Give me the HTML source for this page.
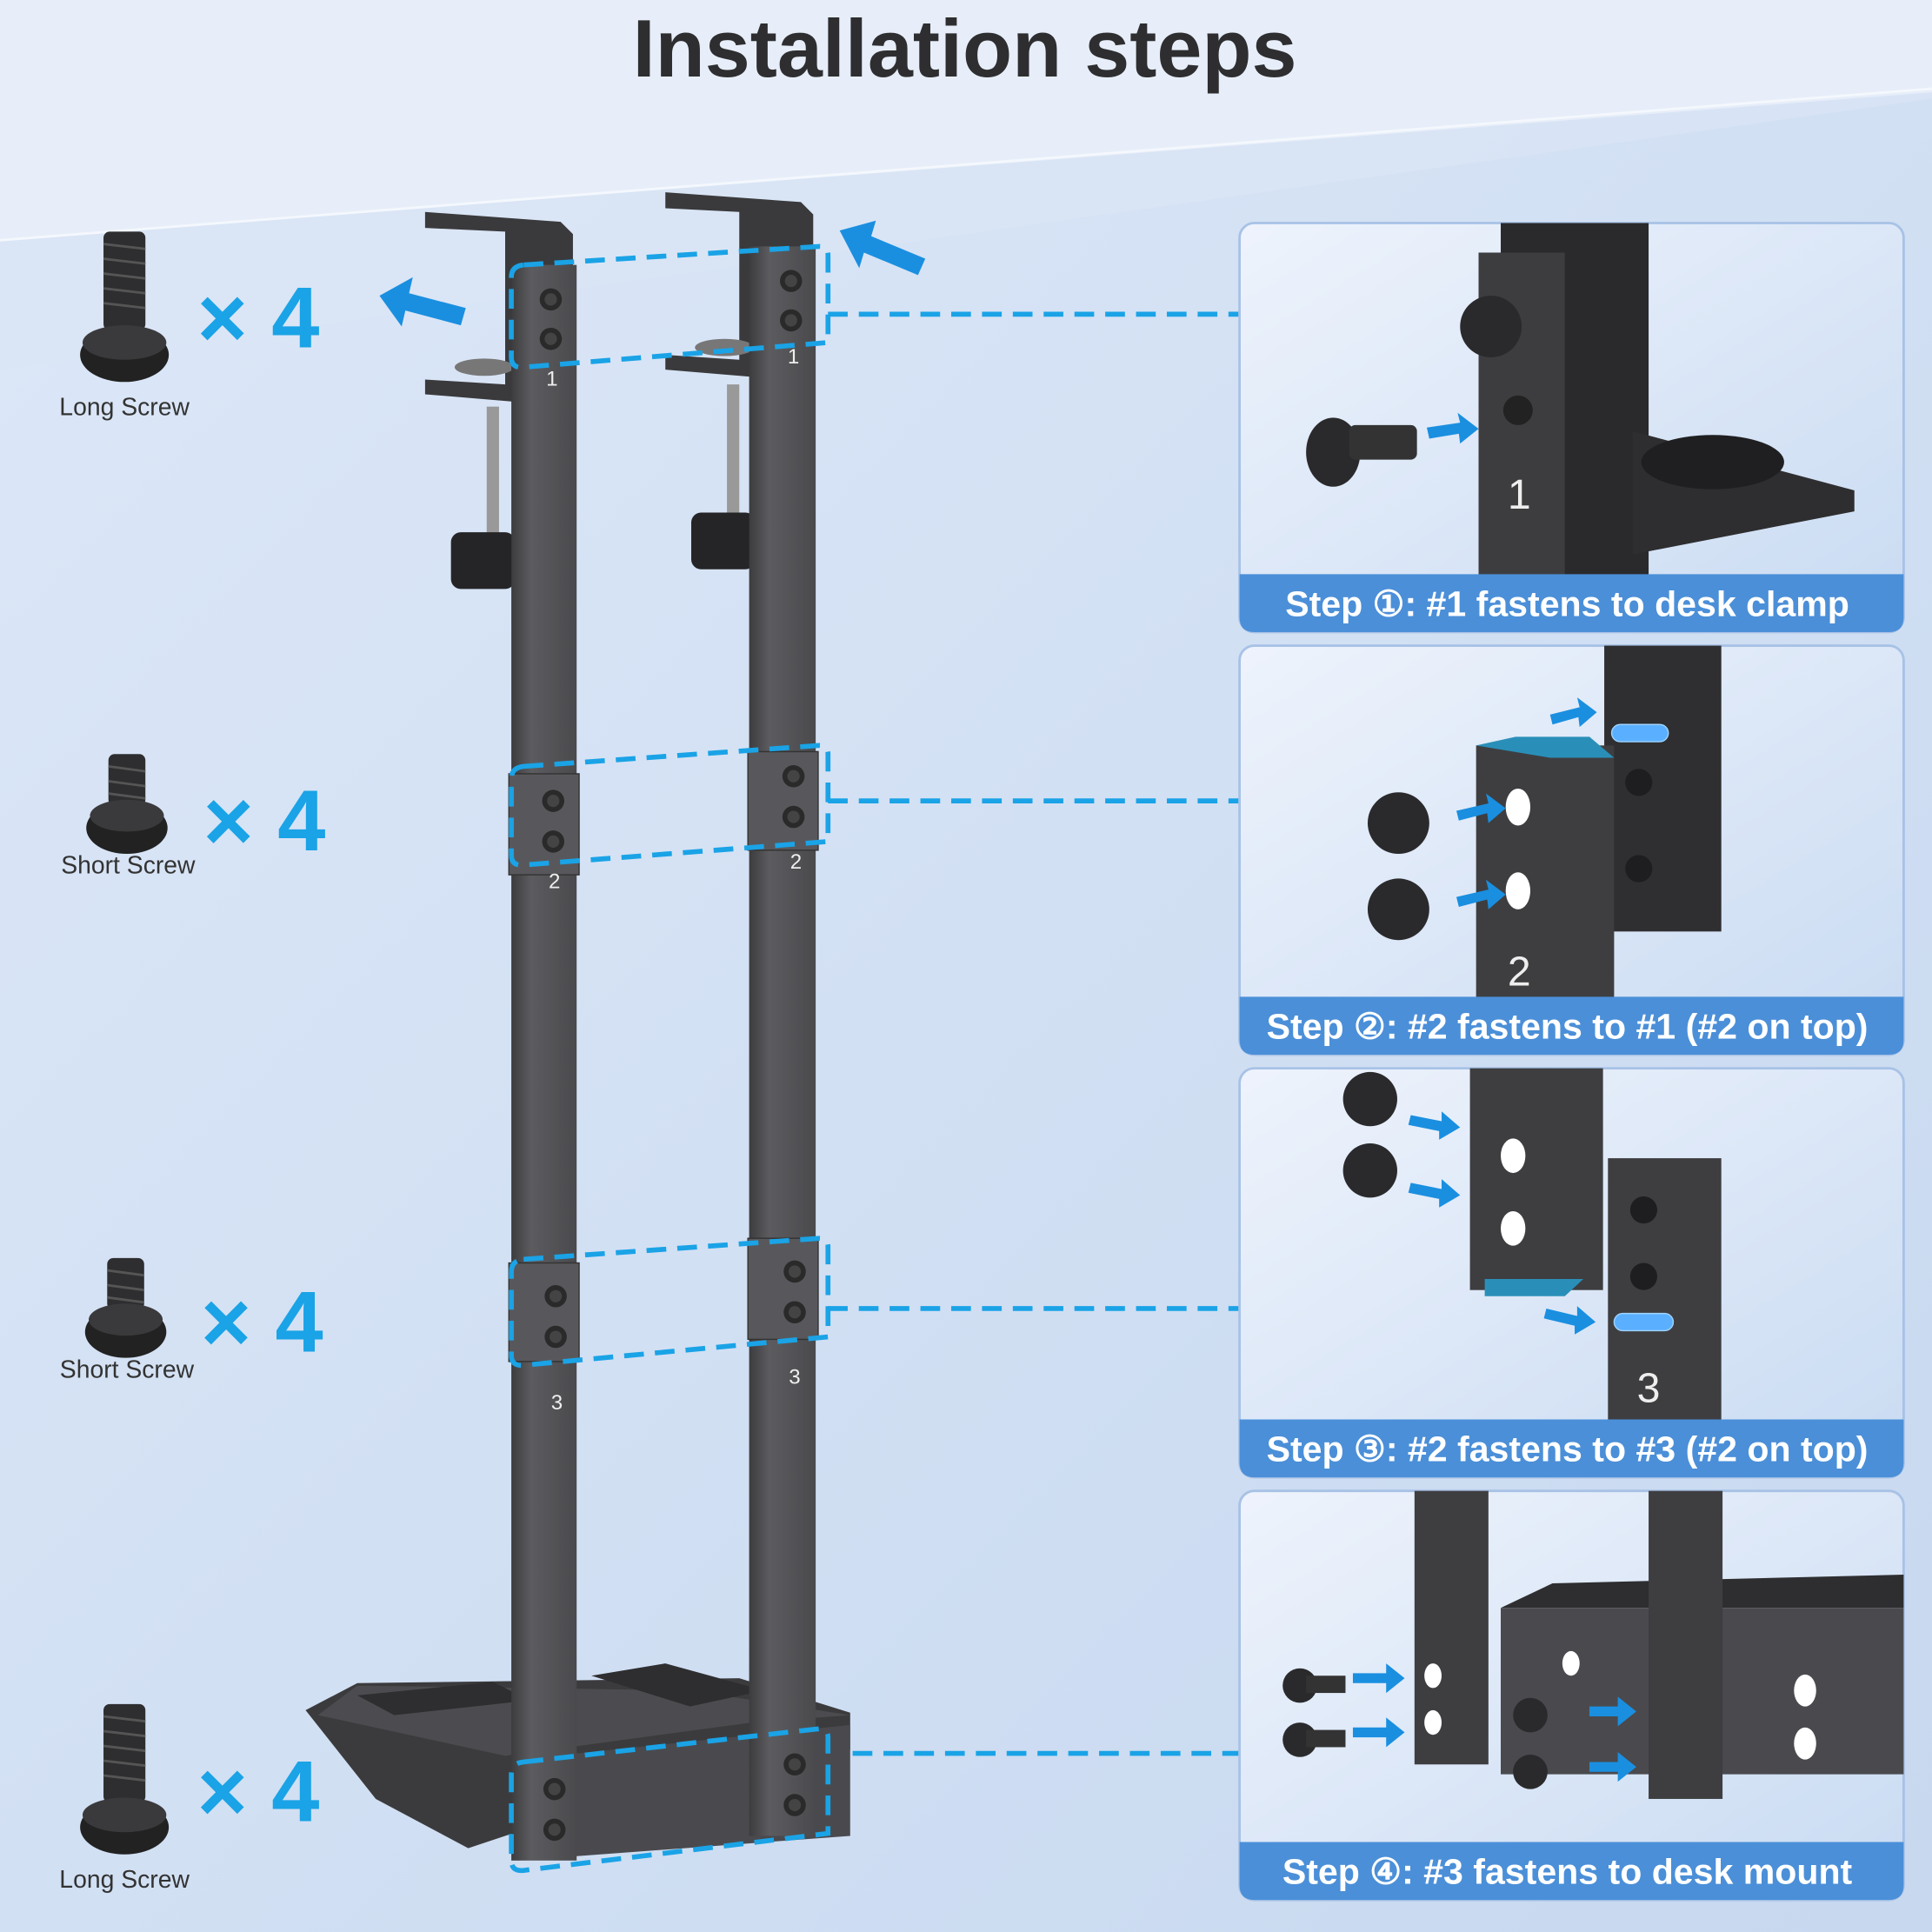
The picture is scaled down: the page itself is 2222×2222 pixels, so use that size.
<!DOCTYPE html>
<html><head><meta charset="utf-8"><style>
html,body{margin:0;padding:0;width:2222px;height:2222px;overflow:hidden}
svg{display:block}
text{font-family:"Liberation Sans",sans-serif}
</style></head><body>
<svg width="2222" height="2222" viewBox="0 0 1568 1568" xmlns="http://www.w3.org/2000/svg">
<defs>
<linearGradient id="bg" x1="0" y1="0" x2="1" y2="1">
<stop offset="0" stop-color="#dde8f8"/><stop offset="1" stop-color="#c7d8ef"/></linearGradient>
<linearGradient id="pn" x1="0" y1="0" x2="1" y2="1">
<stop offset="0" stop-color="#eef3fc"/><stop offset="1" stop-color="#c9dbf2"/></linearGradient>
<linearGradient id="bar" x1="0" y1="0" x2="1" y2="0">
<stop offset="0" stop-color="#3c3c3e"/><stop offset="0.3" stop-color="#5c5c60"/><stop offset="1" stop-color="#4a4a4d"/></linearGradient>
<g id="screwL"><rect x="-17" y="0" width="34" height="80" rx="5" fill="#2e2e30"/>
<g stroke="#555" stroke-width="2"><line x1="-17" y1="10" x2="17" y2="14"/><line x1="-17" y1="22" x2="17" y2="26"/><line x1="-17" y1="34" x2="17" y2="38"/><line x1="-17" y1="46" x2="17" y2="50"/><line x1="-17" y1="58" x2="17" y2="62"/></g>
<ellipse cx="0" cy="100" rx="36" ry="22" fill="#222"/><ellipse cx="0" cy="90" rx="34" ry="14" fill="#3a3a3c"/></g>
<g id="screwS"><rect x="-15" y="0" width="30" height="42" rx="5" fill="#2e2e30"/>
<g stroke="#555" stroke-width="2"><line x1="-15" y1="10" x2="15" y2="14"/><line x1="-15" y1="22" x2="15" y2="26"/><line x1="-15" y1="32" x2="15" y2="36"/></g>
<ellipse cx="0" cy="60" rx="33" ry="21" fill="#222"/><ellipse cx="0" cy="50" rx="30" ry="13" fill="#3a3a3c"/></g>
<g id="bolt"><circle r="9" fill="#2a2a2a"/><circle r="5" fill="#444"/></g>
</defs>
<rect width="1568" height="1568" fill="url(#bg)"/>
<polygon points="0,0 1568,0 1568,75 0,195" fill="#e7eef9"/>
<polygon points="0,195 1568,75 1568,80 0,300" fill="#dae5f5" opacity="0.8"/>
<line x1="0" y1="195" x2="1568" y2="72" stroke="#f4f8fd" stroke-width="2"/>
<text x="783" y="62" text-anchor="middle" font-size="66" font-weight="bold" fill="#2e2e30">Installation steps</text>

<!-- left screws -->
<use href="#screwL" x="101" y="188"/>
<text x="160" y="282" font-size="70" font-weight="bold" fill="#1aa3e6">× 4</text>
<text x="101" y="337" text-anchor="middle" font-size="20" fill="#333">Long Screw</text>
<use href="#screwS" x="103" y="612"/>
<text x="165" y="690" font-size="70" font-weight="bold" fill="#1aa3e6">× 4</text>
<text x="104" y="709" text-anchor="middle" font-size="20" fill="#333">Short Screw</text>
<use href="#screwS" x="102" y="1021"/>
<text x="163" y="1097" font-size="70" font-weight="bold" fill="#1aa3e6">× 4</text>
<text x="103" y="1118" text-anchor="middle" font-size="20" fill="#333">Short Screw</text>
<use href="#screwL" x="101" y="1383"/>
<text x="160" y="1478" font-size="70" font-weight="bold" fill="#1aa3e6">× 4</text>
<text x="101" y="1532" text-anchor="middle" font-size="20" fill="#333">Long Screw</text>

<!-- blue arrows -->
<polygon points="308,240 335,225 332,238 378,250 374,264 329,252 326,265" fill="#1a8fe0"/>
<polygon points="680,192 708,180 706,193 752,205 748,219 702,207 700,220" fill="#1a8fe0" transform="rotate(8 716 200)"/>

<!-- clamps -->
<g fill="#3a3a3c">
<polygon points="345,172 455,180 465,190 465,330 345,320 345,308 410,312 410,188 345,185"/>
<polygon points="540,156 650,164 660,174 660,310 540,300 540,288 600,292 600,172 540,169"/>
</g>
<ellipse cx="393" cy="298" rx="24" ry="7" fill="#777"/><ellipse cx="588" cy="282" rx="24" ry="7" fill="#777"/>
<rect x="395" y="330" width="10" height="110" fill="#999"/><rect x="590" y="312" width="10" height="110" fill="#999"/>
<rect x="366" y="432" width="52" height="46" rx="8" fill="#252527"/>
<rect x="561" y="416" width="52" height="46" rx="8" fill="#252527"/>

<!-- base tray -->
<polygon points="248,1388 290,1366 600,1362 690,1390 690,1420 560,1440 380,1500 305,1460" fill="#3b3b3d"/>
<polygon points="258,1392 410,1425 610,1398 690,1392 560,1372 290,1368" fill="#4c4c50"/>
<polygon points="290,1376 400,1365 430,1380 320,1392" fill="#2e2e30"/>
<polygon points="480,1360 540,1350 620,1372 560,1385" fill="#2e2e30"/>
<polygon points="420,1428 690,1400 690,1490 420,1510" fill="#4a4a4e"/>

<!-- bars -->
<rect x="415" y="215" width="53" height="1295" fill="url(#bar)"/>
<rect x="608" y="200" width="54" height="1290" fill="url(#bar)"/>
<rect x="413" y="628" width="57" height="82" fill="#58585c" stroke="#333"/>
<rect x="607" y="610" width="57" height="80" fill="#58585c" stroke="#333"/>
<rect x="413" y="1025" width="57" height="80" fill="#58585c" stroke="#333"/>
<rect x="607" y="1005" width="57" height="82" fill="#58585c" stroke="#333"/>
<g>
<use href="#bolt" x="447" y="243"/><use href="#bolt" x="447" y="275"/>
<use href="#bolt" x="642" y="228"/><use href="#bolt" x="642" y="260"/>
<use href="#bolt" x="449" y="650"/><use href="#bolt" x="449" y="683"/>
<use href="#bolt" x="644" y="630"/><use href="#bolt" x="644" y="663"/>
<use href="#bolt" x="451" y="1052"/><use href="#bolt" x="451" y="1085"/>
<use href="#bolt" x="645" y="1032"/><use href="#bolt" x="645" y="1065"/>
<use href="#bolt" x="450" y="1452"/><use href="#bolt" x="450" y="1485"/>
<use href="#bolt" x="645" y="1432"/><use href="#bolt" x="645" y="1465"/>
</g>
<g fill="#eee" font-size="17" text-anchor="middle" font-family="Liberation Serif,serif">
<text x="448" y="313">1</text><text x="644" y="295">1</text>
<text x="450" y="721">2</text><text x="646" y="705">2</text>
<text x="452" y="1144">3</text><text x="645" y="1123">3</text>
</g>

<!-- dashed frames & lines -->
<g fill="none" stroke="#1aa3e6" stroke-width="4" stroke-dasharray="16 9">
<path d="M425,215 L665,200 Q672,200 672,207 L672,278 L425,298 Q415,299 415,290 L415,225 Q415,216 425,215Z"/>
<path d="M425,622 L665,605 Q672,605 672,612 L672,683 L425,702 Q415,703 415,694 L415,632 Q415,623 425,622Z"/>
<path d="M425,1022 L665,1005 Q672,1005 672,1012 L672,1085 L425,1108 Q415,1109 415,1100 L415,1032 Q415,1023 425,1022Z"/>
<path d="M425,1430 L665,1403 Q672,1403 672,1410 L672,1488 L425,1518 Q415,1519 415,1510 L415,1440 Q415,1431 425,1430Z"/>
<line x1="672" y1="255" x2="1006" y2="255"/>
<line x1="672" y1="650" x2="1006" y2="650"/>
<line x1="672" y1="1062" x2="1006" y2="1062"/>
<line x1="692" y1="1423" x2="1006" y2="1423"/>
</g>

<!-- panels -->
<g>
<rect x="1006" y="181" width="539" height="332" rx="12" fill="url(#pn)" stroke="#a8c2e6" stroke-width="2"/>
<rect x="1218" y="181" width="120" height="290" fill="#2a2a2c"/>
<rect x="1200" y="205" width="70" height="265" fill="#3d3d40"/>
<polygon points="1325,350 1505,398 1505,415 1325,450" fill="#2e2e30"/>
<ellipse cx="1390" cy="375" rx="58" ry="22" fill="#1f1f21"/>
<circle cx="1210" cy="265" r="25" fill="#2a2a2c"/>
<circle cx="1232" cy="333" r="12" fill="#222"/>
<text x="1233" y="413" text-anchor="middle" fill="#eee" font-size="34" font-family="Liberation Serif,serif">1</text>
<ellipse cx="1082" cy="367" rx="22" ry="28" fill="#2a2a2c"/><rect x="1095" y="345" width="55" height="28" rx="5" fill="#333"/>
<polygon points="1158,347 1185,343 1183,335 1200,348 1185,360 1184,352 1160,356" fill="#1a8fe0"/>
<path d="M1006,466 H1545 V501 Q1545,513 1533,513 H1018 Q1006,513 1006,501Z" fill="#4b8fd8"/>
<text x="1272" y="500" text-anchor="middle" fill="#fff" font-size="29" font-weight="bold">Step ①: #1 fastens to desk clamp</text>

<rect x="1006" y="524" width="539" height="332" rx="12" fill="url(#pn)" stroke="#a8c2e6" stroke-width="2"/>
<rect x="1302" y="524" width="95" height="232" fill="#2f2f31"/>
<rect x="1308" y="588" width="46" height="14" rx="7" fill="#5ab0ff" stroke="#9fd3ff"/>
<circle cx="1330" cy="635" r="11" fill="#1e1e20"/><circle cx="1330" cy="705" r="11" fill="#1e1e20"/>
<rect x="1198" y="605" width="112" height="205" fill="#3e3e41"/>
<polygon points="1198,605 1230,598 1290,598 1310,615 1258,615" fill="#2a8fb8"/>
<ellipse cx="1232" cy="655" rx="10" ry="15" fill="#fff"/><ellipse cx="1232" cy="723" rx="10" ry="15" fill="#fff"/>
<text x="1233" y="800" text-anchor="middle" fill="#eee" font-size="34" font-family="Liberation Serif,serif">2</text>
<circle cx="1135" cy="668" r="25" fill="#2a2a2c"/><circle cx="1135" cy="738" r="25" fill="#2a2a2c"/>
<polygon points="1182,658 1208,652 1206,644 1222,656 1208,668 1207,660 1184,666" fill="#1a8fe0"/>
<polygon points="1182,728 1208,722 1206,714 1222,726 1208,738 1207,730 1184,736" fill="#1a8fe0"/>
<polygon points="1258,580 1282,574 1280,566 1296,578 1282,590 1281,582 1260,588" fill="#1a8fe0"/>
<path d="M1006,809 H1545 V844 Q1545,856 1533,856 H1018 Q1006,856 1006,844Z" fill="#4b8fd8"/>
<text x="1272" y="843" text-anchor="middle" fill="#fff" font-size="29" font-weight="bold">Step ②: #2 fastens to #1 (#2 on top)</text>

<rect x="1006" y="867" width="539" height="332" rx="12" fill="url(#pn)" stroke="#a8c2e6" stroke-width="2"/>
<rect x="1193" y="867" width="108" height="180" fill="#3e3e41"/>
<polygon points="1205,1038 1285,1038 1270,1052 1205,1052" fill="#2a8fb8"/>
<ellipse cx="1228" cy="938" rx="10" ry="14" fill="#fff"/><ellipse cx="1228" cy="997" rx="10" ry="14" fill="#fff"/>
<rect x="1305" y="940" width="92" height="212" fill="#3e3e41"/>
<circle cx="1334" cy="982" r="11" fill="#1e1e20"/><circle cx="1334" cy="1036" r="11" fill="#1e1e20"/>
<rect x="1310" y="1066" width="48" height="14" rx="7" fill="#5ab0ff" stroke="#9fd3ff"/>
<text x="1338" y="1138" text-anchor="middle" fill="#eee" font-size="34" font-family="Liberation Serif,serif">3</text>
<circle cx="1112" cy="892" r="22" fill="#2a2a2c"/><circle cx="1112" cy="950" r="22" fill="#2a2a2c"/>
<polygon points="1145,905 1170,910 1170,902 1185,915 1168,925 1168,918 1143,913" fill="#1a8fe0"/>
<polygon points="1145,960 1170,965 1170,957 1185,970 1168,980 1168,973 1143,968" fill="#1a8fe0"/>
<polygon points="1255,1062 1280,1068 1280,1060 1295,1073 1278,1083 1278,1076 1253,1070" fill="#1a8fe0"/>
<path d="M1006,1152 H1545 V1187 Q1545,1199 1533,1199 H1018 Q1006,1199 1006,1187Z" fill="#4b8fd8"/>
<text x="1272" y="1186" text-anchor="middle" fill="#fff" font-size="29" font-weight="bold">Step ③: #2 fastens to #3 (#2 on top)</text>

<rect x="1006" y="1210" width="539" height="332" rx="12" fill="url(#pn)" stroke="#a8c2e6" stroke-width="2"/>
<polygon points="1218,1305 1260,1285 1545,1278 1545,1305" fill="#2e2e30"/>
<rect x="1218" y="1305" width="327" height="135" fill="#4a4a4e"/>
<rect x="1148" y="1210" width="60" height="222" fill="#3e3e41"/>
<rect x="1338" y="1210" width="60" height="250" fill="#3e3e41"/>
<ellipse cx="1163" cy="1360" rx="7" ry="10" fill="#fff"/><ellipse cx="1163" cy="1398" rx="7" ry="10" fill="#fff"/>
<ellipse cx="1465" cy="1372" rx="9" ry="13" fill="#fff"/><ellipse cx="1465" cy="1415" rx="9" ry="13" fill="#fff"/>
<ellipse cx="1275" cy="1350" rx="7" ry="10" fill="#fff"/>
<circle cx="1055" cy="1368" r="14" fill="#2a2a2c"/><rect x="1060" y="1360" width="32" height="14" fill="#333"/>
<circle cx="1055" cy="1412" r="14" fill="#2a2a2c"/><rect x="1060" y="1404" width="32" height="14" fill="#333"/>
<circle cx="1242" cy="1392" r="14" fill="#2a2a2c"/><circle cx="1242" cy="1438" r="14" fill="#2a2a2c"/>
<polygon points="1098,1358 1125,1358 1125,1350 1140,1362 1125,1374 1125,1366 1098,1366" fill="#1a8fe0"/>
<polygon points="1098,1402 1125,1402 1125,1394 1140,1406 1125,1418 1125,1410 1098,1410" fill="#1a8fe0"/>
<polygon points="1290,1385 1313,1385 1313,1377 1328,1389 1313,1401 1313,1393 1290,1393" fill="#1a8fe0"/>
<polygon points="1290,1430 1313,1430 1313,1422 1328,1434 1313,1446 1313,1438 1290,1438" fill="#1a8fe0"/>
<path d="M1006,1495 H1545 V1530 Q1545,1542 1533,1542 H1018 Q1006,1542 1006,1530Z" fill="#4b8fd8"/>
<text x="1272" y="1529" text-anchor="middle" fill="#fff" font-size="29" font-weight="bold">Step ④: #3 fastens to desk mount</text>
</g>
</svg>
</body></html>
